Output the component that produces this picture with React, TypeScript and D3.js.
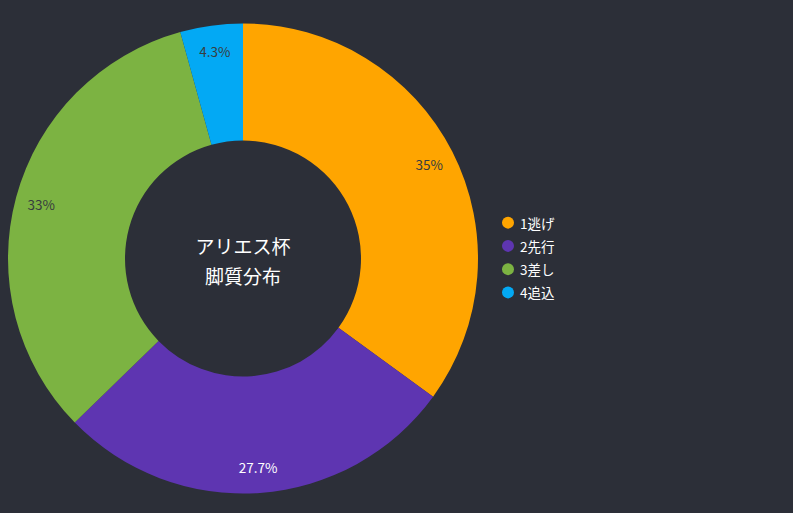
import * as d3 from 'd3';

const categories = ['1逃げ', '2先行', '3差し', '4追込'];
const values = [35, 27.7, 33, 4.3];
const colors = ['#ffa500', '#5e35b1', '#7cb342', '#03a9f4'];
const labelColors = ['#373d3f', '#ffffff', '#373d3f', '#373d3f'];
const titleLines = ['アリエス杯', '脚質分布'];

const width = 793;
const height = 513;
const cx = 243;
const cy = 258.5;
const outer = 235;
const inner = 118;
const font = '"Noto Sans CJK JP", "Noto Sans", sans-serif';

export default function App() {
  const pie = d3.pie<number>().sort(null).value(d => d);
  const arcs = pie(values);
  const arc = d3.arc<d3.PieArcDatum<number>>().innerRadius(inner).outerRadius(outer);
  const labelArc = d3.arc<d3.PieArcDatum<number>>().innerRadius(209).outerRadius(209);
  const total = d3.sum(values);

  const legendY = d3.scaleBand<string>().domain(categories).range([211, 304]);

  return (
    <svg width={width} height={height} style={{ position: 'fixed', left: 0, top: 0, background: '#2c2f38' }}>
      <rect width={width} height={height} fill="#2c2f38" />
      <g transform={`translate(${cx},${cy})`}>
        {arcs.map((a, i) => (
          <path key={i} d={arc(a) ?? ''} fill={colors[i]} />
        ))}
        {arcs.map((a, i) => {
          const [x, y] = labelArc.centroid(a);
          const pct = (a.data / total) * 100;
          return (
            <text key={i} x={x} y={y} textAnchor="middle" dominantBaseline="central"
              fontSize={13.5} fontFamily={font} fill={labelColors[i]}>
              {`${+pct.toFixed(1)}%`}
            </text>
          );
        })}
        {titleLines.map((t, i) => (
          <text key={t} x={0} y={-13 + i * 30} textAnchor="middle" dominantBaseline="central"
            fontSize={19} fontFamily={font} fill="#ffffff">
            {t}
          </text>
        ))}
      </g>
      <g>
        {categories.map((c, i) => {
          const y = (legendY(c) ?? 0) + legendY.bandwidth() / 2;
          return (
            <g key={c}>
              <circle cx={508} cy={y} r={6} fill={colors[i]} />
              <text x={520} y={y} dominantBaseline="central" fontSize={13.5} fontFamily={font} fill="#ffffff">
                {c}
              </text>
            </g>
          );
        })}
      </g>
    </svg>
  );
}
